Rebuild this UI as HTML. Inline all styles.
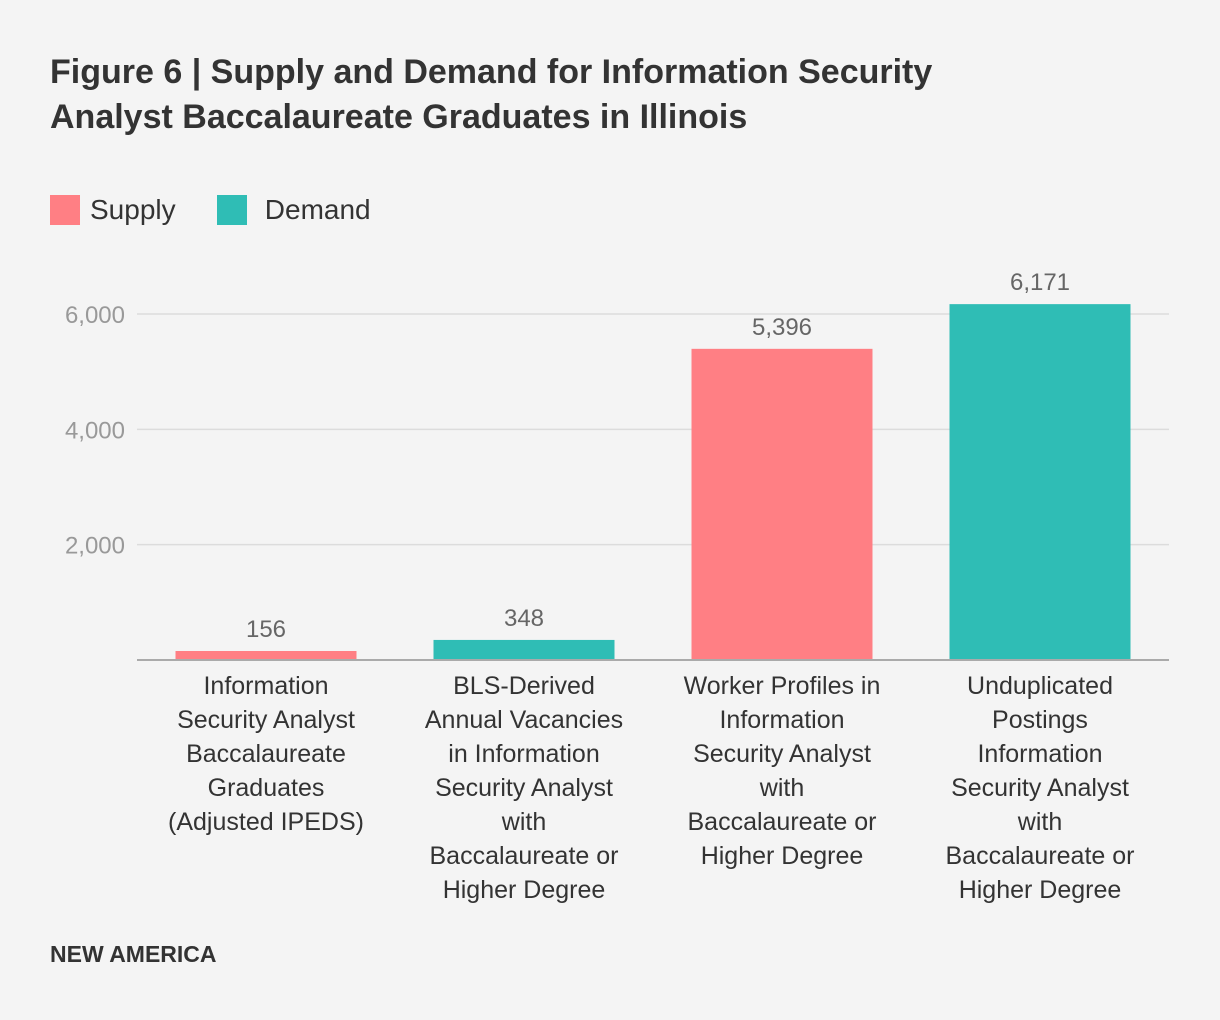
<!DOCTYPE html>
<html><head><meta charset="utf-8"><style>
body{margin:0;background:#f4f4f4;font-family:"Liberation Sans",sans-serif;}
#wrap{position:relative;width:1220px;height:1020px;background:#f4f4f4;overflow:hidden}
h1{position:absolute;left:50px;top:50px;margin:0;font-size:34px;line-height:45px;font-weight:bold;color:#333;width:990px}
.leg{position:absolute;top:194px;font-size:28px;color:#333;display:flex;align-items:center}
.sw{width:30px;height:30px;margin-right:10px;display:inline-block}
#foot{position:absolute;left:50px;top:941px;font-size:23px;font-weight:bold;color:#333}
</style></head><body>
<div id="wrap">
<h1>Figure 6 | Supply and Demand for Information Security Analyst Baccalaureate Graduates in Illinois</h1>
<div class="leg" style="left:50px"><span class="sw" style="background:#ff7f84"></span>Supply</div>
<div class="leg" style="left:217px"><span class="sw" style="background:#2fbdb5"></span>&nbsp;Demand</div>
<svg id="chart" width="1220" height="1020" style="position:absolute;left:0;top:0"></svg>
<div id="foot">NEW AMERICA</div>
</div>
<script>
const categories=[["Information","Security Analyst","Baccalaureate","Graduates","(Adjusted IPEDS)"],["BLS-Derived","Annual Vacancies","in Information","Security Analyst","with","Baccalaureate or","Higher Degree"],["Worker Profiles in","Information","Security Analyst","with","Baccalaureate or","Higher Degree"],["Unduplicated","Postings","Information","Security Analyst","with","Baccalaureate or","Higher Degree"]];
const values=[156,348,5396,6171];
const seriesType=["supply","demand","supply","demand"];
const ticks=[2000,4000,6000];
const tickLabels=["2,000","4,000","6,000"];
const valueLabels=["156","348","5,396","6,171"];
const svg=document.getElementById('chart');const NS="http://www.w3.org/2000/svg";
const x0=137,x1=1169,y0=660,yTop=314,vTop=6000;
const y=v=>y0-(v/vTop)*(y0-yTop);
const band=(x1-x0)/values.length;const bw=181;
const colors={supply:"#ff7f84",demand:"#2fbdb5"};
function mk(t,a){const e=document.createElementNS(NS,t);for(const k in a)e.setAttribute(k,a[k]);svg.appendChild(e);return e;}
ticks.forEach((t,i)=>{
const g=mk('line',{x1:x0,x2:x1,y1:y(t),y2:y(t),stroke:"#dcdcdc","stroke-width":1.5});


const l=mk('text',{x:125,y:y(t)+9,"text-anchor":"end","font-size":24,fill:"#999"});l.textContent=tickLabels[i];


});
values.forEach((v,i)=>{
const cx=x0+band*(i+0.5);
const r=mk('rect',{x:cx-bw/2,y:y(v),width:bw,height:y0-y(v),fill:colors[seriesType[i]]});


const t=mk('text',{x:cx,y:y(v)-14,"text-anchor":"middle","font-size":24,fill:"#666"});t.textContent=valueLabels[i];


categories[i].forEach((ln,j)=>{
const c=mk('text',{x:cx,y:694+34*j,"text-anchor":"middle","font-size":25,fill:"#333"});c.textContent=ln;


});
});
const ax=mk('line',{x1:x0,x2:x1,y1:y0,y2:y0,stroke:"#aaa","stroke-width":2});


</script>
</body></html>
